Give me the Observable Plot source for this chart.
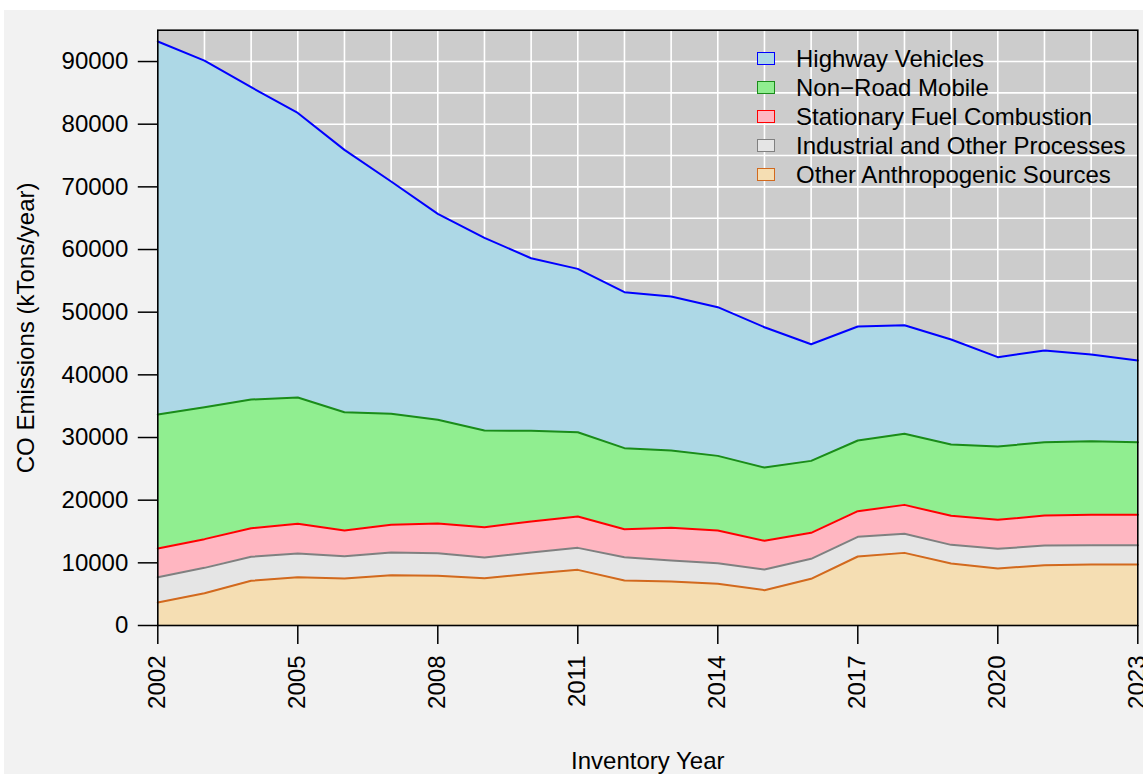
<!DOCTYPE html>
<html>
<head>
<meta charset="utf-8">
<script src="https://cdn.jsdelivr.net/npm/d3@7"></script>
<script src="https://cdn.jsdelivr.net/npm/@observablehq/plot@0.6"></script>
<style>
html, body { margin: 0; padding: 0; background: #ffffff; }
#wrap { position: absolute; left: 4px; top: 10px; width: 1139px; height: 764px; background: #f2f2f2; overflow: hidden;
  font-family: "Liberation Sans", Arial, Helvetica, sans-serif; }
#legend { position: absolute; left: 753px; top: 34px; }
.item { display: flex; align-items: center; height: 29px; font-size: 24px; color: #000; white-space: nowrap; }
.sw { width: 16px; height: 11px; border: 1.5px solid; margin-right: 21px; box-sizing: content-box; }
</style>
</head>
<body>
<div id="wrap"></div>
<script>
// ---- data ----
const years = [2002, 2003, 2004, 2005, 2006, 2007, 2008, 2009, 2010, 2011, 2012,
               2013, 2014, 2015, 2016, 2017, 2018, 2019, 2020, 2021, 2022, 2023];
const categories = ["Highway Vehicles", "Non\u2212Road Mobile", "Stationary Fuel Combustion",
                    "Industrial and Other Processes", "Other Anthropogenic Sources"];
const highwayVehicles = [59520, 55310, 49840, 45420, 41860, 37070, 32870, 30750, 27550, 26060, 24890,
                         24580, 23730, 22390, 18620, 18190, 17330, 16760, 14260, 14630, 13830, 13040];
const nonRoadMobile = [21380, 21060, 20530, 20160, 18880, 17720, 16540, 15420, 14470, 13460, 12930,
                       12340, 11910, 11700, 11480, 11280, 11340, 11380, 11700, 11700, 11750, 11590];
const stationaryFuel = [4580, 4580, 4570, 4730, 4100, 4410, 4740, 4840, 4940, 5000, 4470,
                        5210, 5210, 4570, 4150, 4090, 4620, 4630, 4630, 4780, 4840, 4840];
const industrialOther = [4040, 4040, 3830, 3780, 3560, 3620, 3620, 3300, 3410, 3510, 3720,
                         3350, 3300, 3300, 3190, 3140, 3040, 2980, 3130, 3140, 3090, 3090];
const otherAnthro = [3670, 5160, 7130, 7710, 7500, 8030, 7920, 7550, 8240, 8880, 7180,
                     7020, 6650, 5640, 7450, 11010, 11590, 9890, 9100, 9630, 9730, 9730];
const yTicks = [0, 10000, 20000, 30000, 40000, 50000, 60000, 70000, 80000, 90000];
const xTicks = [2002, 2005, 2008, 2011, 2014, 2017, 2020, 2023];
const xLabel = "Inventory Year";
const yLabel = "CO Emissions (kTons/year)";

// ---- styles ----
const fillOf = {
  "Highway Vehicles": "#add8e6",
  "Non\u2212Road Mobile": "#90ee90",
  "Stationary Fuel Combustion": "#ffb6c1",
  "Industrial and Other Processes": "#e5e5e5",
  "Other Anthropogenic Sources": "#f5deb3"
};
const strokeOf = {
  "Highway Vehicles": "#0000ff",
  "Non\u2212Road Mobile": "#1a8c1a",
  "Stationary Fuel Combustion": "#ff0000",
  "Industrial and Other Processes": "#808080",
  "Other Anthropogenic Sources": "#d2691e"
};

const seriesValues = [highwayVehicles, nonRoadMobile, stationaryFuel, industrialOther, otherAnthro];
const data = [];
categories.forEach((cat, ci) => {
  years.forEach((yr, i) => data.push({year: yr, cat: cat, value: seriesValues[ci][i]}));
});
const stackOrder = categories.slice().reverse(); // bottom to top

const font = "'Liberation Sans', Arial, Helvetica, sans-serif";
const fs = 24;
const chart = Plot.plot({
  width: 1139,
  height: 764,
  marginLeft: 153.3,
  marginRight: 5.7,
  marginTop: 19.7,
  marginBottom: 149,
  style: {background: "#f2f2f2", fontFamily: font, fontSize: fs + "px", color: "black", overflow: "visible"},
  x: {domain: [2002, 2023], label: null},
  y: {domain: [0, 95000], label: null},
  color: {type: "identity"},
  marks: [
    Plot.frame({fill: "#cccccc"}),
    Plot.gridX({ticks: years, stroke: "white", strokeOpacity: 1, strokeWidth: 1.6}),
    Plot.gridY({ticks: d3.range(0, 95001, 5000), stroke: "white", strokeOpacity: 1, strokeWidth: 1.6}),
    Plot.areaY(data, Plot.stackY({x: "year", y: "value", z: "cat", fill: d => fillOf[d.cat], order: stackOrder})),
    Plot.lineY(data, Plot.stackY2({x: "year", y: "value", z: "cat", stroke: d => strokeOf[d.cat], order: stackOrder, strokeWidth: 2})),
    Plot.axisY({ticks: yTicks, tickSize: 19.5, tickPadding: 10, tickFormat: d => String(d), label: null, strokeWidth: 1.5, fontSize: fs}),
    Plot.axisX({ticks: xTicks, tickSize: 19, tickPadding: 11, tickRotate: -90, tickFormat: d => String(d), label: null, strokeWidth: 1.5, fontSize: fs}),
    Plot.frame({stroke: "black", strokeWidth: 1.6}),
    Plot.text([yLabel], {frameAnchor: "left", textAnchor: "middle", dx: -131.8, rotate: -90, lineAnchor: "middle", fontSize: fs}),
    Plot.text([xLabel], {frameAnchor: "bottom", textAnchor: "middle", dy: 136, lineAnchor: "middle", fontSize: fs})
  ]
});
const wrap = document.getElementById("wrap");
wrap.appendChild(chart);

// legend (inside plot area, top right)
const legend = document.createElement("div");
legend.id = "legend";
categories.forEach(cat => {
  const item = document.createElement("div");
  item.className = "item";
  const sw = document.createElement("span");
  sw.className = "sw";
  sw.style.background = fillOf[cat];
  sw.style.borderColor = strokeOf[cat];
  const t = document.createElement("span");
  t.textContent = cat;
  item.appendChild(sw);
  item.appendChild(t);
  legend.appendChild(item);
});
wrap.appendChild(legend);
</script>
</body>
</html>
